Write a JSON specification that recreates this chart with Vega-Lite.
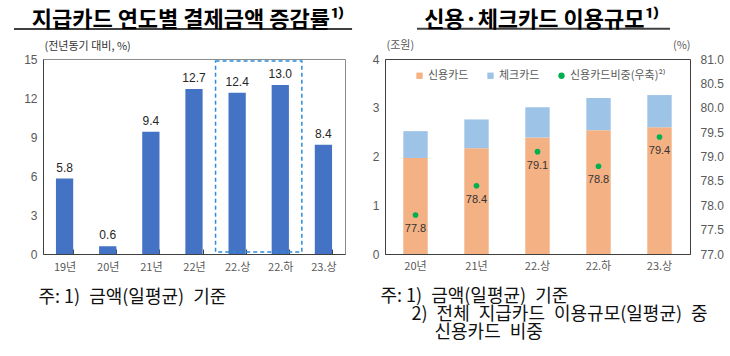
{
  "$schema": "https://vega.github.io/schema/vega-lite/v6.json",
  "padding": {"left": 12, "top": 8, "right": 5, "bottom": 5},
  "background": "white",
  "bounds": "flush",
  "spacing": 40,
  "config": {
    "font": "Noto Sans CJK KR",
    "view": {"stroke": null},
    "axis": {"grid": false, "labelColor": "#595959", "domainColor": "#404040", "titleFontWeight": "normal", "labelOverlap": false}
  },
  "datasets": {
    "growth": [
      {"period": "19년", "rate": 5.8},
      {"period": "20년", "rate": 0.6},
      {"period": "21년", "rate": 9.4},
      {"period": "22년", "rate": 12.7},
      {"period": "22.상", "rate": 12.4},
      {"period": "22.하", "rate": 13.0},
      {"period": "23.상", "rate": 8.4}
    ],
    "usage": [
      {"period": "20년", "card": "신용카드", "amount": 1.97},
      {"period": "20년", "card": "체크카드", "amount": 0.55},
      {"period": "21년", "card": "신용카드", "amount": 2.17},
      {"period": "21년", "card": "체크카드", "amount": 0.59},
      {"period": "22.상", "card": "신용카드", "amount": 2.39},
      {"period": "22.상", "card": "체크카드", "amount": 0.62},
      {"period": "22.하", "card": "신용카드", "amount": 2.54},
      {"period": "22.하", "card": "체크카드", "amount": 0.66},
      {"period": "23.상", "card": "신용카드", "amount": 2.6},
      {"period": "23.상", "card": "체크카드", "amount": 0.66}
    ],
    "share": [
      {"period": "20년", "series": "신용카드비중(우축)²⁾", "share": 77.8},
      {"period": "21년", "series": "신용카드비중(우축)²⁾", "share": 78.4},
      {"period": "22.상", "series": "신용카드비중(우축)²⁾", "share": 79.1},
      {"period": "22.하", "series": "신용카드비중(우축)²⁾", "share": 78.8},
      {"period": "23.상", "series": "신용카드비중(우축)²⁾", "share": 79.4}
    ]
  },
  "hconcat": [
    {
      "width": 302,
      "height": 195,
      "title": {"text": "지급카드 연도별 결제금액 증감률¹⁾", "fontSize": 22, "fontWeight": "bold", "color": "#000000", "anchor": "middle", "frame": "group", "dx": -6, "offset": -4},
      "view": {"stroke": "#8c8c8c"},
      "layer": [
        {
          "data": {"name": "growth"},
          "mark": {"type": "bar", "color": "#4472C4"},
          "encoding": {
            "x": {
              "field": "period", "type": "ordinal",
              "scale": {"domain": ["19년", "20년", "21년", "22년", "22.상", "22.하", "23.상"], "paddingInner": 0.6, "paddingOuter": 0.3},
              "axis": {
                "labelAngle": 0, "labelFontSize": 11, "labelPadding": 12, "tickBand": "extent", "ticks": true, "tickSize": -5, "tickColor": "#404040", "tickWidth": 1,
                "title": "주: 1)\u2002금액(일평균)\u2002기준", "titleFontSize": 18, "titleColor": "#111111", "titleAlign": "left", "titleBaseline": "top", "titleAnchor": "start", "titleX": -5, "titleY": 34
              }
            },
            "y": {
              "field": "rate", "type": "quantitative",
              "scale": {"domain": [0, 15], "nice": false},
              "axis": {
                "values": [0, 3, 6, 9, 12, 15], "tickCount": 20, "format": "d", "labelOverlap": false, "ticks": false, "labelFontSize": 12, "labelFont": "Liberation Sans Narrow, Liberation Sans", "labelPadding": 6,
                "title": "(전년동기 대비, %)", "titleAngle": 0, "titleAlign": "left", "titleBaseline": "middle", "titleX": 1, "titleY": -13, "titleFontSize": 11, "titleColor": "#333333"
              }
            }
          }
        },
        {
          "data": {"name": "growth"},
          "mark": {"type": "text", "baseline": "bottom", "dy": -4, "fontSize": 12, "font": "Liberation Sans Narrow, Liberation Sans", "color": "#262626"},
          "encoding": {
            "x": {"field": "period", "type": "ordinal"},
            "y": {"field": "rate", "type": "quantitative"},
            "text": {"field": "rate", "type": "quantitative", "format": ".1f"}
          }
        },
        {
          "data": {"values": [{}]},
          "mark": {"type": "rect", "fillOpacity": 0, "stroke": "#2E8BD8", "strokeWidth": 1.5, "strokeDash": [4, 3]},
          "encoding": {
            "x": {"datum": "22.상", "bandPosition": -0.75},
            "x2": {"datum": "22.하", "bandPosition": 1.75},
            "y": {"datum": 14.85},
            "y2": {"datum": 0.15}
          }
        },
        {
          "data": {"values": [{}]},
          "mark": {"type": "rule", "color": "#404040", "strokeWidth": 2},
          "encoding": {
            "x": {"datum": "19년", "bandPosition": -2.43},
            "x2": {"datum": "23.상", "bandPosition": 2.16},
            "y": {"datum": 17.3}
          }
        }
      ]
    },
    {
      "width": 305,
      "height": 195,
      "title": {"text": "신용·체크카드 이용규모¹⁾", "fontSize": 22, "fontWeight": "bold", "color": "#000000", "anchor": "middle", "frame": "group", "dx": 4, "offset": -4},
      "view": {"stroke": "#404040"},
      "layer": [
        {
          "layer": [
            {
              "data": {"name": "usage"},
              "mark": {"type": "bar"},
              "encoding": {
                "x": {
                  "field": "period", "type": "ordinal",
                  "scale": {"domain": ["20년", "21년", "22.상", "22.하", "23.상"], "paddingInner": 0.6, "paddingOuter": 0.3},
                  "axis": {
                    "labelAngle": 0, "labelFontSize": 11, "labelPadding": 6, "ticks": false,
                    "title": ["주: 1)\u2002금액(일평균)\u2002기준", "\u200b\u3000\u2002\u00a02)\u2002전체\u2002지급카드\u2002이용규모(일평균)\u2002중", "\u200b\u3000\u3000\u3000신용카드\u2002비중"],
                    "titleFontSize": 18, "titleLineHeight": 18, "titleColor": "#111111", "titleAlign": "left", "titleBaseline": "top", "titleAnchor": "start", "titleX": -5, "titleY": 33
                  }
                },
                "y": {
                  "field": "amount", "type": "quantitative", "stack": "zero",
                  "scale": {"domain": [0, 4], "nice": false},
                  "axis": {
                    "values": [0, 1, 2, 3, 4], "tickCount": 20, "format": "d", "labelOverlap": false, "ticks": false, "labelFontSize": 12, "labelFont": "Liberation Sans Narrow, Liberation Sans", "labelPadding": 6,
                    "title": "(조원)", "titleAngle": 0, "titleAlign": "left", "titleBaseline": "middle", "titleX": 1, "titleY": -14, "titleFontSize": 11, "titleColor": "#595959"
                  }
                },
                "order": {"field": "card", "sort": "ascending"},
                "color": {
                  "field": "card", "type": "nominal",
                  "scale": {"domain": ["신용카드", "체크카드", "신용카드비중(우축)²⁾"], "range": ["#F4B183", "#9DC3E6", "#00B050"]},
                  "legend": {
                    "title": null, "orient": "none", "legendX": 371, "legendY": 11, "direction": "horizontal",
                    "symbolType": "square", "symbolSize": 40, "labelFontSize": 11, "labelColor": "#595959", "columnPadding": 16, "labelOffset": 3,
                    "encode": {"symbols": {"update": {"shape": {"signal": "datum.value === '신용카드비중(우축)²⁾' ? 'circle' : 'square'"}}}}
                  }
                }
              }
            },
            {
              "data": {"values": [{}]},
              "mark": {"type": "rule", "color": "#404040", "strokeWidth": 2},
              "encoding": {
                "x": {"datum": "20년", "bandPosition": 0.56},
                "x2": {"datum": "23.상", "bandPosition": 0.93},
                "y": {"datum": 4.62}
              }
            }
          ]
        },
        {
          "layer": [
            {
              "data": {"name": "share"},
              "mark": {"type": "point", "filled": true, "opacity": 1, "size": 32},
              "encoding": {
                "x": {"field": "period", "type": "ordinal"},
                "y": {
                  "field": "share", "type": "quantitative",
                  "scale": {"domain": [77, 81], "nice": false},
                  "axis": {
                    "orient": "right", "values": [77, 77.5, 78, 78.5, 79, 79.5, 80, 80.5, 81], "tickCount": 20, "labelOverlap": false, "format": ".1f", "ticks": false, "domain": false,
                    "labelFontSize": 12, "labelFont": "Liberation Sans Narrow, Liberation Sans", "labelPadding": 10,
                    "title": "(%)", "titleAngle": 0, "titleAlign": "right", "titleBaseline": "middle", "titleX": 0, "titleY": -14, "titleFontSize": 11, "titleColor": "#595959"
                  }
                },
                "color": {"field": "series", "type": "nominal"}
              }
            },
            {
              "data": {"name": "share"},
              "mark": {"type": "text", "baseline": "middle", "dy": 14, "fontSize": 11, "font": "Liberation Sans Narrow, Liberation Sans", "color": "#333333"},
              "encoding": {
                "x": {"field": "period", "type": "ordinal"},
                "y": {"field": "share", "type": "quantitative"},
                "text": {"field": "share", "type": "quantitative", "format": ".1f"}
              }
            }
          ]
        }
      ],
      "resolve": {"scale": {"y": "independent"}}
    }
  ]
}
